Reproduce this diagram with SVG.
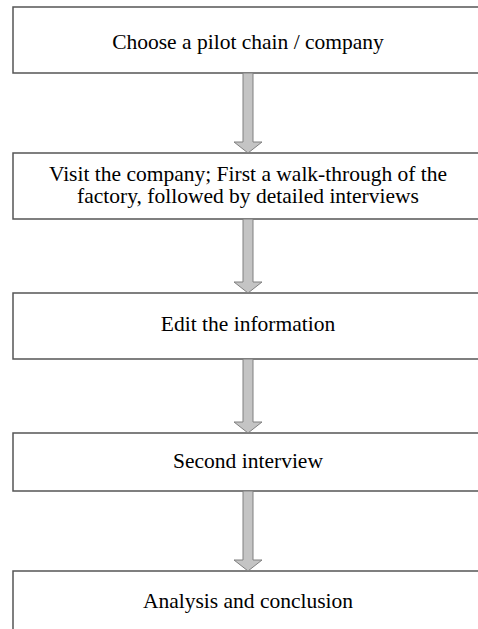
<svg xmlns="http://www.w3.org/2000/svg" width="478" height="629" viewBox="0 0 478 629">
<style>
.box{fill:#fff;stroke:#555;stroke-width:1.5}
.lbl{font-family:"Liberation Serif","Times New Roman",serif;font-size:21.5px;fill:#000;text-anchor:middle}
.arr{fill:#c4c4c4;stroke:#808080;stroke-width:1}
</style>
<rect width="478" height="629" fill="#fff"/>
<g id="n1"><rect class="box" x="13" y="7" width="472" height="66"/><text class="lbl" x="248" y="49">Choose a pilot chain / company</text></g>
<g id="n2"><rect class="box" x="13" y="153" width="472" height="66"/><text class="lbl" x="248" y="181">Visit the company; First a walk-through of the</text><text class="lbl" x="248" y="203">factory, followed by detailed interviews</text></g>
<g id="n3"><rect class="box" x="13" y="293" width="472" height="66"/><text class="lbl" x="248" y="331">Edit the information</text></g>
<g id="n4"><rect class="box" x="13" y="433" width="472" height="58"/><text class="lbl" x="248" y="468">Second interview</text></g>
<g id="n5"><rect class="box" x="13" y="571" width="472" height="70"/><text class="lbl" x="248" y="608">Analysis and conclusion</text></g>
<g id="connectors">
<polygon class="arr" points="243,73 253,73 253,142 262,142 248,153 234,142 243,142"/>
<polygon class="arr" points="243,219 253,219 253,282 262,282 248,293 234,282 243,282"/>
<polygon class="arr" points="243,359 253,359 253,422 262,422 248,433 234,422 243,422"/>
<polygon class="arr" points="243,491 253,491 253,560 262,560 248,571 234,560 243,560"/>
</g>
</svg>
